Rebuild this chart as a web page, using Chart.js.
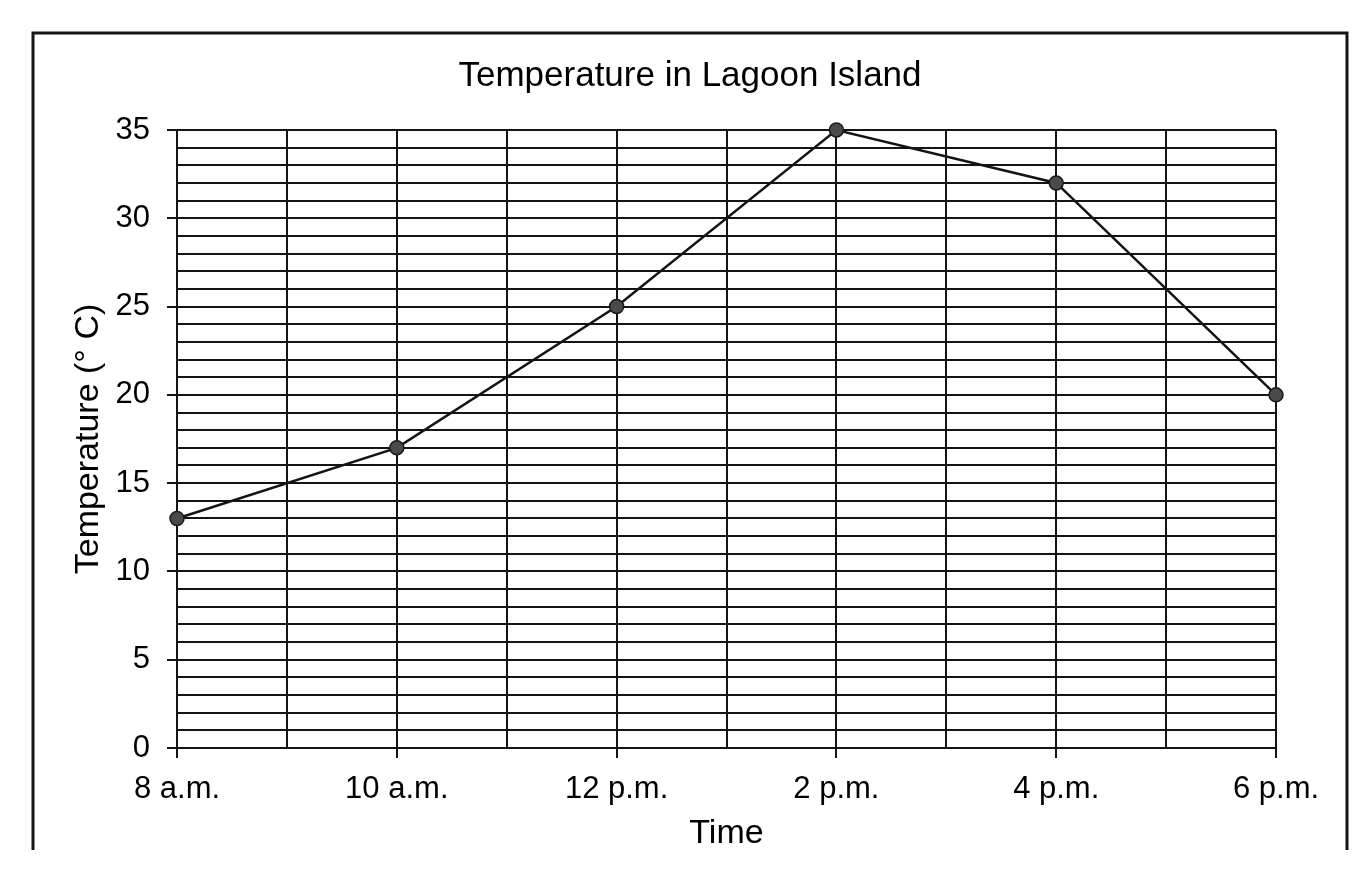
<!DOCTYPE html>
<html>
<head>
<meta charset="utf-8">
<title>Temperature in Lagoon Island</title>
<script src="https://cdn.jsdelivr.net/npm/chart.js@4.4.1/dist/chart.umd.min.js"></script>
<style>
  html, body { margin: 0; padding: 0; background: #fff; }
  #wrap { position: relative; width: 1372px; height: 875px; }
</style>
</head>
<body>
<div id="wrap"><canvas id="myChart"></canvas></div>
<script>
'use strict';
// data
let hours = [8, 10, 12, 14, 16, 18];
let timeLabels = ['8 a.m.', '10 a.m.', '12 p.m.', '2 p.m.', '4 p.m.', '6 p.m.'];
let temps = [13, 17, 25, 35, 32, 20];
let yTickLabels = [0, 5, 10, 15, 20, 25, 30, 35];

let ink = '#141414';
let fontName = '"Liberation Sans", Arial, sans-serif';

let points = [];
for (let i = 0; i < hours.length; i++) {
    points.push({ x: hours[i], y: temps[i] });
}

// open frame round the whole chart (no bottom edge, like the scan)
let framePlugin = {
    id: 'frame',
    afterDraw(chart) {
        let ctx = chart.ctx;
        ctx.save();
        ctx.strokeStyle = ink;
        ctx.lineWidth = 3;
        ctx.beginPath();
        ctx.moveTo(33, 850);
        ctx.lineTo(33, 33);
        ctx.lineTo(1347, 33);
        ctx.lineTo(1347, 850);
        ctx.stroke();
        ctx.restore();
    }
};

let ctx = document.getElementById('myChart').getContext('2d');
let chart = new Chart(ctx, {
    type: 'line',
    data: {
        datasets: [{
            label: 'Temperature',
            data: points,
            borderColor: ink,
            borderWidth: 2.5,
            tension: 0,
            pointRadius: 7,
            pointBackgroundColor: '#4a4a4a',
            pointBorderColor: '#1a1a1a',
            pointBorderWidth: 1.5,
            clip: false
        }]
    },
    options: {
        responsive: true,
        maintainAspectRatio: false,
        animation: false,
        layout: { padding: { left: 33, right: 25, top: 0, bottom: 0 } },
        plugins: {
            legend: { display: false },
            tooltip: { enabled: false },
            title: {
                display: true,
                text: 'Temperature in Lagoon Island',
                color: '#000',
                font: { family: fontName, size: 35, weight: 'normal' },
                padding: { top: 55, bottom: 33 }
            }
        },
        scales: {
            x: {
                type: 'linear',
                min: hours[0],
                max: hours[hours.length - 1],
                afterFit(scale) { scale.height = 127; },
                ticks: {
                    stepSize: 1,
                    autoSkip: false,
                    maxRotation: 0,
                    padding: 13,
                    color: '#000',
                    font: { family: fontName, size: 31 },
                    callback: function (v) {
                        let i = hours.indexOf(v);
                        return i >= 0 ? timeLabels[i] : '';
                    }
                },
                grid: {
                    color: ink,
                    lineWidth: 2,
                    tickLength: 10,
                    tickColor: c => hours.includes(c.tick.value) ? ink : 'rgba(0,0,0,0)'
                },
                border: { color: ink, width: 2 },
                title: {
                    display: true,
                    text: 'Time',
                    color: '#000',
                    font: { family: fontName, size: 34 },
                    padding: { top: 0, bottom: 21 }
                }
            },
            y: {
                min: 0,
                max: 35,
                afterFit(scale) { scale.width = 144; },
                ticks: {
                    stepSize: 1,
                    autoSkip: false,
                    padding: 17,
                    color: '#000',
                    font: { family: fontName, size: 31 },
                    callback: v => yTickLabels.includes(v) ? String(v) : ''
                },
                grid: {
                    color: ink,
                    lineWidth: 2,
                    tickLength: 10,
                    tickColor: c => yTickLabels.includes(c.tick.value) ? ink : 'rgba(0,0,0,0)'
                },
                border: { color: ink, width: 2 },
                title: {
                    display: true,
                    text: 'Temperature (° C)',
                    color: '#000',
                    font: { family: fontName, size: 34 },
                    padding: { top: 35, bottom: 0 }
                }
            },
            // empty right-hand margin so the plot stops where the scan's does
            yRight: {
                position: 'right',
                min: 0,
                max: 35,
                afterFit(scale) { scale.width = 71; },
                ticks: { display: false },
                grid: { display: false, drawTicks: false },
                border: { display: false }
            }
        }
    },
    plugins: [framePlugin]
});
</script>
</body>
</html>
